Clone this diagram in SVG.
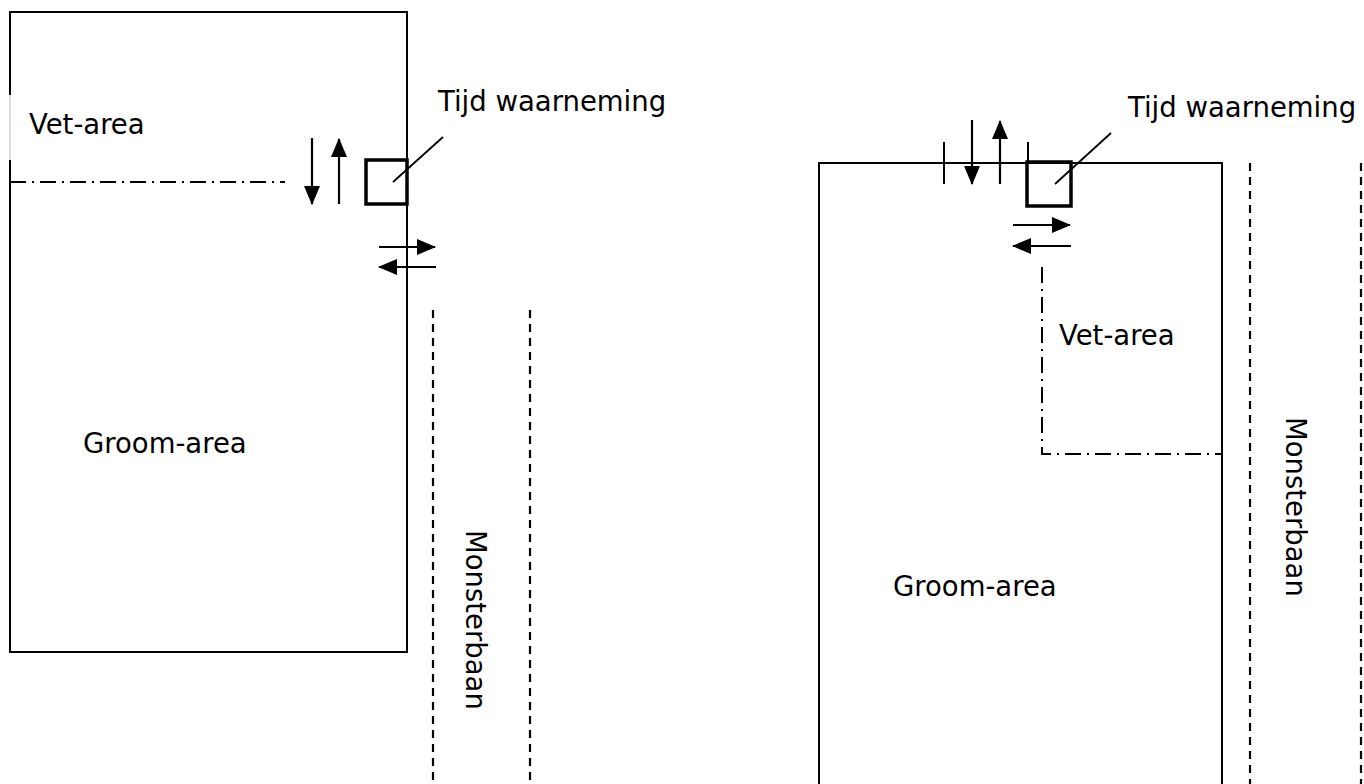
<svg xmlns="http://www.w3.org/2000/svg" width="1364" height="784" viewBox="0 0 1364 784">
<defs>
<style>
.t{font-family:"DejaVu Sans",Verdana,sans-serif;font-size:27.5px;fill:#000}
.edge{fill:none;stroke:#000;stroke-width:2}
.box{fill:none;stroke:#000;stroke-width:3.5}
.arr{stroke:#000;stroke-width:2.2;fill:none}
.dash{stroke:#000;stroke-width:2.2;stroke-dasharray:8 6;fill:none}
.dd{stroke:#000;stroke-width:2;stroke-dasharray:16 6 2 6;fill:none}
.lead{stroke:#000;stroke-width:1.8}
</style>
<marker id="ah" viewBox="0 0 19 16" refX="18" refY="8" markerWidth="19" markerHeight="16" markerUnits="userSpaceOnUse" orient="auto">
<path d="M0,0 L19,8 L0,16 z" fill="#000"/>
</marker>
</defs>
<rect width="1364" height="784" fill="#fff"/>

<g id="left-diagram">
  <g id="left-groom-area">
    <path class="edge" d="M10,95 L10,12 L407,12 L407,652 L10,652 L10,160"/>
    <line x1="10" y1="95" x2="10" y2="160" stroke="#bbb" stroke-width="1"/>
    <text class="t" x="83" y="453">Groom-area</text>
  </g>
  <g id="left-vet-area">
    <text class="t" x="29" y="134">Vet-area</text>
    <line class="dd" x1="10" y1="182" x2="285" y2="182"/>
  </g>
  <g id="left-tijd">
    <rect class="box" x="366" y="160" width="41" height="44"/>
    <line class="lead" x1="393" y1="182" x2="443" y2="137"/>
    <text class="t" x="438" y="111">Tijd waarneming</text>
  </g>
  <g id="left-monsterbaan">
    <line class="dash" x1="433" y1="310" x2="433" y2="784"/>
    <line class="dash" x1="530" y1="310" x2="530" y2="784"/>
    <text class="t" transform="translate(466,530) rotate(90)">Monsterbaan</text>
  </g>
</g>

<g id="right-diagram">
  <g id="right-groom-area">
    <path class="edge" d="M819,790 L819,163 L1222,163 L1222,790"/>
    <line class="edge" x1="944" y1="142" x2="944" y2="184"/>
    <line class="edge" x1="1028" y1="142" x2="1028" y2="163"/>
    <text class="t" x="893" y="596">Groom-area</text>
  </g>
  <g id="right-vet-area">
    <path class="dd" d="M1042,267 L1042,454 L1222,454"/>
    <text class="t" x="1059" y="345">Vet-area</text>
  </g>
  <g id="right-tijd">
    <rect class="box" x="1027" y="162" width="44" height="44"/>
    <line class="lead" x1="1055" y1="184" x2="1111" y2="133"/>
    <text class="t" x="1128" y="117">Tijd waarneming</text>
  </g>
  <g id="right-monsterbaan">
    <line class="dash" x1="1250" y1="163" x2="1250" y2="784"/>
    <line class="dash" x1="1361" y1="163" x2="1361" y2="784"/>
    <text class="t" transform="translate(1286,417) rotate(90)">Monsterbaan</text>
  </g>
</g>

<g id="connectors">
  <line class="arr" x1="312" y1="138" x2="312" y2="204" marker-end="url(#ah)"/>
  <line class="arr" x1="339" y1="204" x2="339" y2="139" marker-end="url(#ah)"/>
  <line class="arr" x1="379" y1="247" x2="435" y2="247" marker-end="url(#ah)"/>
  <line class="arr" x1="436" y1="267" x2="379" y2="267" marker-end="url(#ah)"/>
  <line class="arr" x1="972" y1="120" x2="972" y2="184" marker-end="url(#ah)"/>
  <line class="arr" x1="1000" y1="184" x2="1000" y2="121" marker-end="url(#ah)"/>
  <line class="arr" x1="1013" y1="225" x2="1070" y2="225" marker-end="url(#ah)"/>
  <line class="arr" x1="1071" y1="246" x2="1013" y2="246" marker-end="url(#ah)"/>
</g>
</svg>
